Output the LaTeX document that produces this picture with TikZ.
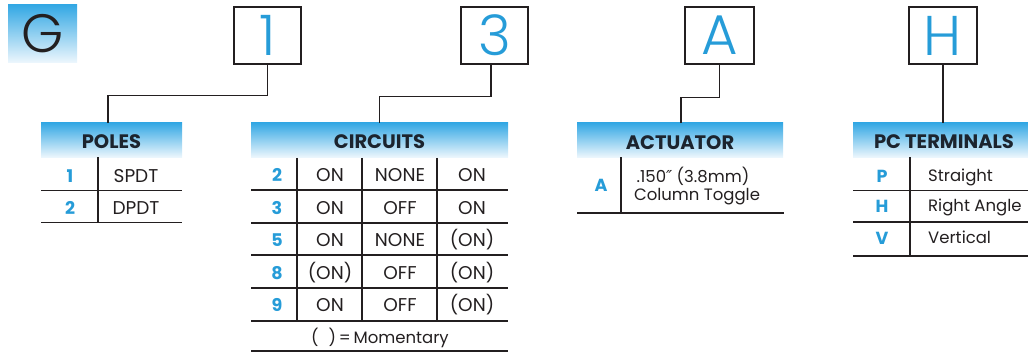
\documentclass[tikz,border=0pt]{standalone}
\usepackage{fontspec}
\setmainfont{Poppins}
\IfFontExistsTF{Poppins Light}{\newfontfamily\lightfont{Poppins Light}}{\newfontfamily\lightfont{Poppins}}
\newfontfamily\dejavu{DejaVu Sans}
\definecolor{numblue}{RGB}{38,156,216}
\definecolor{hdrtop}{RGB}{52,168,228}
\definecolor{hdrbot}{RGB}{238,247,253}
\definecolor{ink}{RGB}{35,31,32}
\definecolor{hdrink}{RGB}{28,36,46}
\tikzset{
  conn/.style={draw=ink, line width=1.4pt},
  rule/.style={draw=ink, line width=1.3pt},
  codebox/.style={draw=ink, line width=1.2pt, minimum width=67pt, minimum height=57pt, inner sep=0pt,
    text=numblue, font=\lightfont\fontsize{56}{56}\selectfont},
  hdr/.style={top color=hdrtop, bottom color=hdrbot, minimum height=34.5pt, inner sep=0pt},
  hdrtext/.style={text=hdrink, font=\fontsize{19.5}{20}\selectfont\bfseries, inner sep=0pt,
    text height=13.6pt, text depth=0pt},
  num/.style={text=numblue, font=\fontsize{17.5}{18}\selectfont\bfseries, inner sep=0pt,
    text height=12.2pt, text depth=0pt},
  cell/.style={text=ink, font=\fontsize{18.5}{19}\selectfont, inner sep=0pt,
    text height=12.9pt, text depth=0pt},
  lcell/.style={text=ink, font=\fontsize{16.5}{17}\selectfont, inner sep=0pt,
    text height=11.5pt, text depth=0pt},
}
\begin{document}
\begin{tikzpicture}[x=1pt,y=-1pt]
\useasboundingbox (0,0) rectangle (1028,352);
% G box
\node[top color=hdrtop, bottom color=hdrbot, minimum width=69pt, minimum height=58pt, inner sep=0pt,
  text=ink, font=\lightfont\fontsize{54}{54}\selectfont] (g) at (42.5,34) {G};
% code boxes
\node[codebox] (b1) at (267.5,35.5) {1};
\node[codebox] (b3) at (494.5,35.5) {3};
\node[codebox, minimum width=69pt] (bA) at (719.5,35.5) {A};
\node[codebox, minimum width=68pt] (bH) at (943,35.5) {H};
% headers
\node[hdr, minimum width=141pt] (poles) at (111.5,140.25) {};
\node[hdr, minimum width=257pt] (circ) at (379.5,140.25) {};
\node[hdr, minimum width=206pt] (act) at (680,140.25) {};
\node[hdr, minimum width=175pt] (pc) at (940.5,140.25) {};
\node[hdrtext] (polest) at (111.5,142) {POLES};
\node[hdrtext] (circt) at (379.5,142) {CIRCUITS};
\node[hdrtext] (actt) at (680,143) {ACTUATOR};
\node[hdrtext] (pct) at (944,141.5) {PC TERMINALS};
% connectors
\draw[conn] (b1.south) -- ++(0,31) -| ([xshift=-3.5pt]poles.north);
\draw[conn] ([xshift=-3.5pt]b3.south) -- ++(0,32) -| (circ.north);
\draw[conn] (bA.south) -- ++(0,33) -| ([xshift=1pt]act.north);
\draw[conn] (bH.south) -- (bH.south |- pc.north);
% POLES table
\draw[rule] (98,157.5) -- (98,222.5);
\draw[rule] (41,190.5) -- (182,190.5);
\draw[rule] (41,222.5) -- (182,222.5);
\node[num] (p1) at (70,176) {1};
\node[cell] (p1d) at (136,176) {SPDT};
\node[num] (p2) at (70,208.5) {2};
\node[cell] (p2d) at (136,208.5) {DPDT};
% CIRCUITS table
\foreach \x in {297,362,437} \draw[rule] (\x,158) -- (\x,321);
\foreach \y in {190,223,255,288,321,351} \draw[rule] (251,\y) -- (508,\y);
\foreach \n/\y/\a/\b/\c in {2/175/ON/NONE/ON, 3/208/ON/OFF/ON, 5/240.5/ON/NONE/(ON), 8/273/(ON)/OFF/(ON), 9/305.5/ON/OFF/(ON)}{
  \node[num] (cn\n) at (277,\y) {\n};
  \node[cell] (ca\n) at (330,\y) {\a};
  \node[cell] (cb\n) at (400,\y) {\b};
  \node[cell] (cc\n) at (472,\y) {\c};
}
\node[lcell] (mom) at (380,337.5) {(\hspace{10pt})\,=\,Momentary};
% ACTUATOR table
\draw[rule] (621,157.5) -- (621,213);
\draw[rule] (577,213) -- (784,213);
\node[num] (a1) at (601,185) {A};
\node[lcell] (a1d) at (693,177) {.150{\dejavu\itshape ″} (3.8mm)};
\node[lcell] (a1e) at (697,194.5) {Column Toggle};
% PC TERMINALS table
\draw[rule] (910,157.5) -- (910,256);
\draw[rule] (853,190.5) -- (1028,190.5);
\draw[rule] (853,222) -- (1028,222);
\draw[rule] (853,256) -- (1028,256);
\node[num] (t1) at (882,176) {P};
\node[lcell, anchor=west] (t1d) at (928,176) {Straight};
\node[num] (t2) at (882,206) {H};
\node[lcell, anchor=west] (t2d) at (928,206) {Right Angle};
\node[num] (t3) at (882,238) {V};
\node[lcell, anchor=west] (t3d) at (928,238) {Vertical};
\end{tikzpicture}
\end{document}
